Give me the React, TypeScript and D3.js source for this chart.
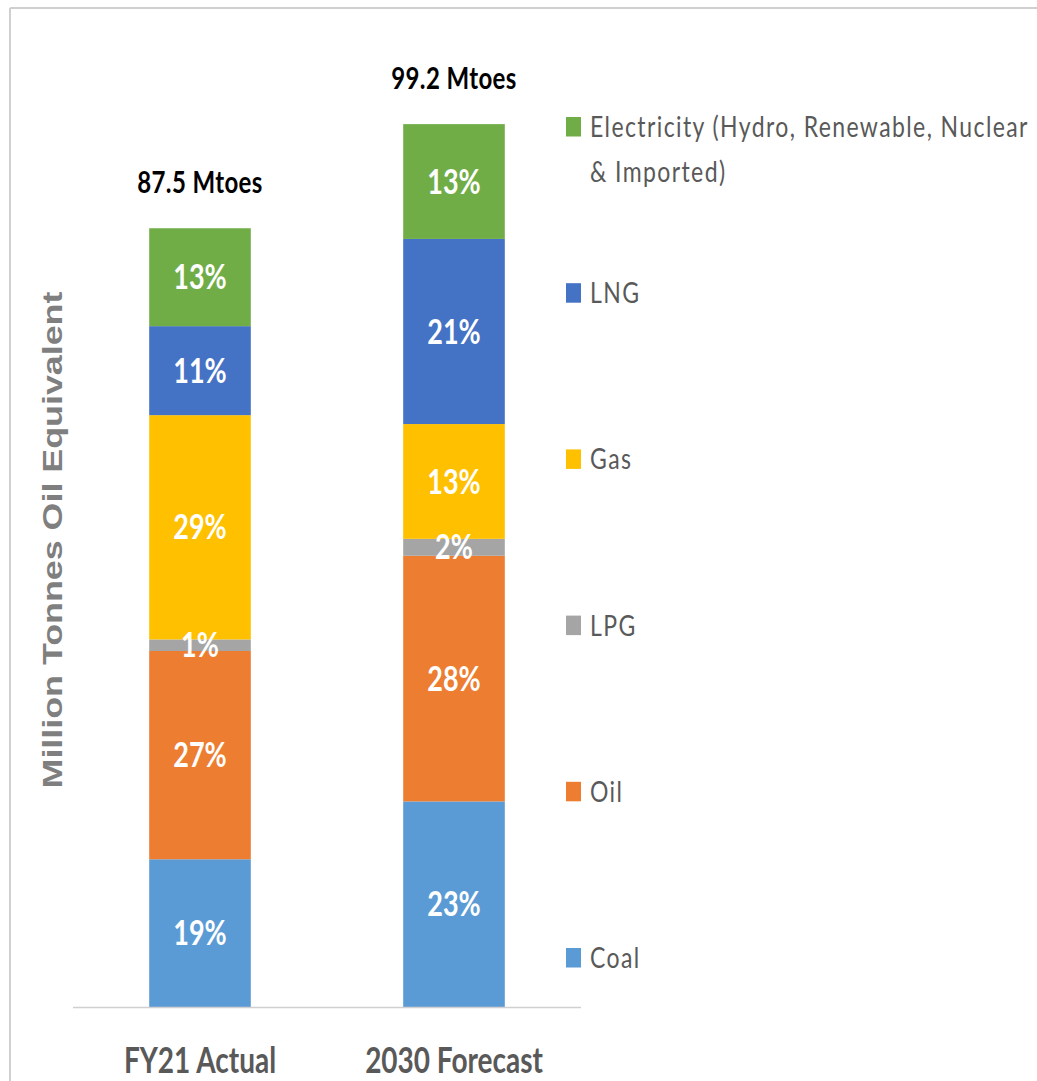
import React from "react";
import * as d3 from "d3";

// Energy mix in million tonnes of oil equivalent, bottom to top of each stack
const categories = ["FY21 Actual", "2030 Forecast"];
const fuels = ["Coal", "Oil", "LPG", "Gas", "LNG", "Electricity"];
const fuelLabels = [
  "Coal",
  "Oil",
  "LPG",
  "Gas",
  "LNG",
  "Electricity (Hydro, Renewable, Nuclear|& Imported)",
];
const fuelColors = ["#5b9bd5", "#ed7d31", "#a5a5a5", "#ffc000", "#4472c4", "#70ad47"];
const fy21Values = [16.6, 23.4, 1.3, 25.2, 10.0, 11.0];
const forecast2030Values = [23.1, 27.6, 1.9, 12.9, 20.8, 12.9];

const W = 1037;
const H = 1081;
const STRETCH = 1.28; // vertical stretch applied to all text

type Row = { category: string; [k: string]: number | string };

const rows: Row[] = categories.map((c, i) => {
  const vals = i === 0 ? fy21Values : forecast2030Values;
  const r: Row = { category: c };
  fuels.forEach((f, j) => (r[f] = vals[j]));
  return r;
});

const totals = rows.map((r) => d3.sum(fuels, (f) => r[f] as number));

const x = d3
  .scaleBand<string>()
  .domain(categories)
  .range([73, 581])
  .paddingInner(0.6)
  .paddingOuter(0.3);

const y = d3.scaleLinear().domain([0, 110]).range([1007, 1007 - 110 * 8.9]);

const stack = d3.stack<Row>().keys(fuels).value((d, k) => d[k] as number);
const series = stack(rows);

function SText(props: {
  x: number;
  y: number;
  size: number;
  weight?: number;
  fill: string;
  anchor?: "start" | "middle" | "end";
  family?: string;
  spacing?: number;
  children: React.ReactNode;
}) {
  const {
    x: tx,
    y: ty,
    size,
    weight = 400,
    fill,
    anchor = "start",
    family = "Lato, 'Open Sans', sans-serif",
    spacing = 0,
  } = props;
  return (
    <text
      transform={`translate(${tx},${ty}) scale(1,${STRETCH})`}
      fontSize={size}
      fontWeight={weight}
      fill={fill}
      textAnchor={anchor}
      fontFamily={family}
      letterSpacing={spacing}
    >
      {props.children}
    </text>
  );
}

export default function App() {
  const legendTop = d3
    .scalePoint<string>()
    .domain([...fuels].reverse())
    .range([117, 948]);

  return (
    <svg
      width={W}
      height={H}
      style={{ position: "absolute", left: 0, top: 0, display: "block", background: "#fff" }}
    >
      {/* chart frame */}
      <line x1={10} y1={8} x2={W} y2={8} stroke="#d0d0d0" strokeWidth={2} />
      <line x1={10} y1={8} x2={10} y2={H} stroke="#d0d0d0" strokeWidth={2} />

      {/* stacked bars */}
      {series.map((s, si) => (
        <g key={s.key} fill={fuelColors[si]}>
          {s.map((d, di) => (
            <rect
              key={di}
              x={x(d.data.category)!}
              y={y(d[1])}
              width={x.bandwidth()}
              height={y(d[0]) - y(d[1])}
            />
          ))}
        </g>
      ))}

      {/* percentage labels */}
      {series.map((s) =>
        s.map((d, di) => {
          const pct = Math.round(((d[1] - d[0]) / totals[di]) * 100);
          const cy = (y(d[0]) + y(d[1])) / 2;
          return (
            <SText
              key={s.key + di}
              x={x(d.data.category)! + x.bandwidth() / 2}
              y={cy + 9.5 * STRETCH}
              size={27}
              weight={700}
              fill="#ffffff"
              anchor="middle"
            >
              {pct}%
            </SText>
          );
        })
      )}

      {/* totals above bars */}
      {rows.map((r, i) => (
        <SText
          key={r.category}
          x={x(r.category)! + x.bandwidth() / 2}
          y={y(totals[i]) - 35}
          size={24}
          weight={700}
          fill="#000000"
          anchor="middle"
          spacing={0.4}
        >
          {totals[i].toFixed(1)} Mtoes
        </SText>
      ))}

      {/* baseline */}
      <line x1={73} y1={1007.5} x2={581} y2={1007.5} stroke="#d0d0d0" strokeWidth={1.5} />

      {/* category labels */}
      {categories.map((c) => (
        <SText
          key={c}
          x={x(c)! + x.bandwidth() / 2}
          y={1073}
          size={28}
          weight={700}
          fill="#595959"
          anchor="middle"
        >
          {c}
        </SText>
      ))}

      {/* y axis title */}
      <text
        transform={`translate(62,540) rotate(-90) scale(${STRETCH},1)`}
        fontSize={28}
        fontWeight={700}
        fill="#7f7f7f"
        textAnchor="middle"
        fontFamily="'Liberation Sans', Arial, sans-serif"
      >
        Million Tonnes Oil Equivalent
      </text>

      {/* legend */}
      {fuels.map((f, i) => {
        const top = legendTop(f)!;
        const lines = fuelLabels[i].split("|");
        return (
          <g key={f}>
            <rect x={566} y={top} width={15} height={19.5} fill={fuelColors[i]} />
            {lines.map((ln, li) => (
              <SText
                key={li}
                x={590}
                y={top + 20 + li * 45}
                size={23}
                fill="#595959"
                spacing={1.4}
              >
                {ln}
              </SText>
            ))}
          </g>
        );
      })}
    </svg>
  );
}
